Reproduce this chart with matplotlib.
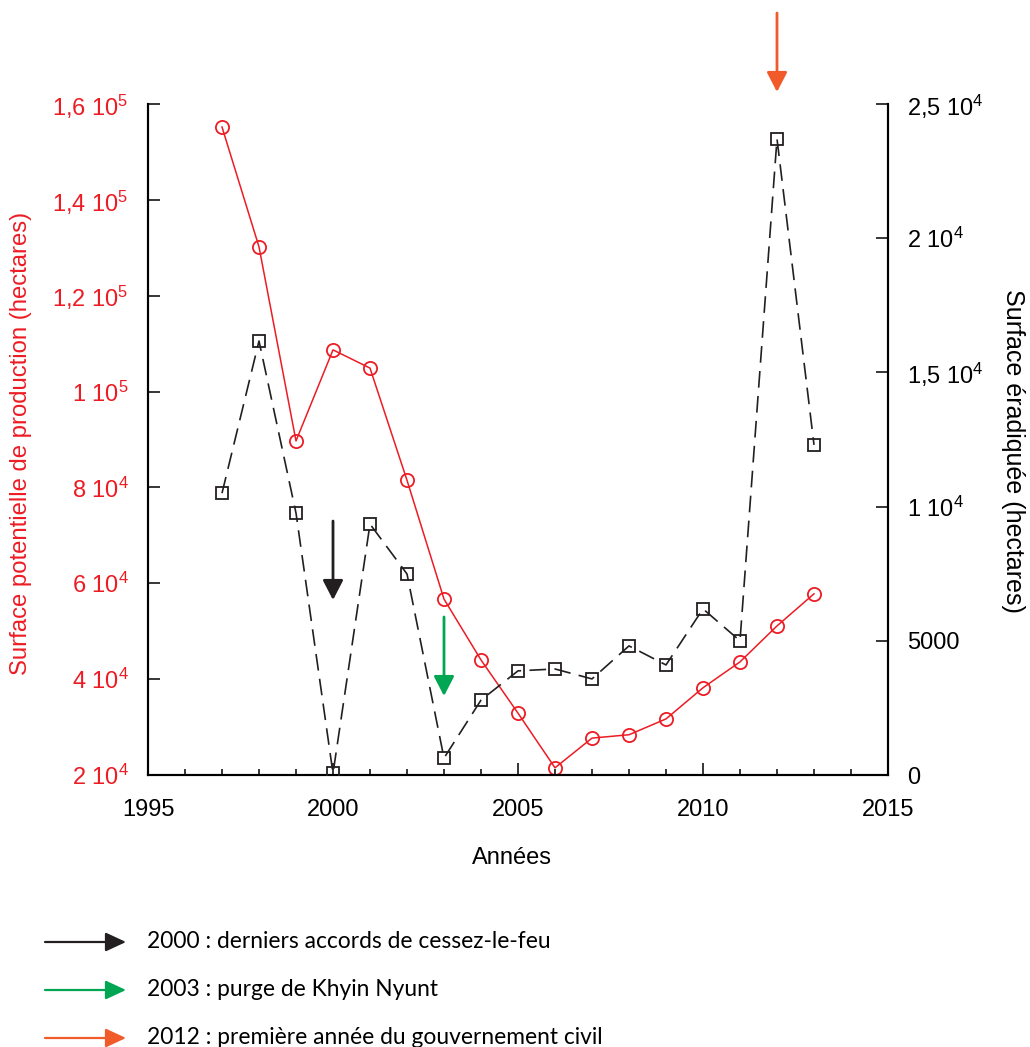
import matplotlib
matplotlib.use("Agg")
import matplotlib.pyplot as plt
import numpy as np

plt.rcParams['font.family'] = ['Liberation Sans', 'DejaVu Sans']
plt.rcParams['mathtext.fontset'] = 'custom'
plt.rcParams['mathtext.rm'] = 'Liberation Sans'
plt.rcParams['mathtext.default'] = 'regular'

# ---- data ----
years = list(range(1997, 2014))
production = [155200, 130200, 89700, 108700, 104900, 81500, 56700, 44000,
              32900, 21500, 27700, 28400, 31700, 38200, 43600, 51100, 57800]
eradicated = [10500, 16170, 9760, 60, 9350, 7490, 630, 2790,
              3880, 3950, 3580, 4810, 4100, 6190, 5000, 23700, 12300]

left_ticks = [2e4, 4e4, 6e4, 8e4, 1e5, 1.2e5, 1.4e5, 1.6e5]
left_labels = ['2 10$^4$', '4 10$^4$', '6 10$^4$', '8 10$^4$', '1 10$^5$',
               '1,2 10$^5$', '1,4 10$^5$', '1,6 10$^5$']
right_ticks = [0, 5000, 10000, 15000, 20000, 25000]
right_labels = ['0', '5000', '1 10$^4$', '1,5 10$^4$', '2 10$^4$', '2,5 10$^4$']
x_ticks = [1995, 2000, 2005, 2010, 2015]

event_years = [2000, 2003, 2012]
event_colors = ['#231f20', '#00a651', '#f15a29']
event_texts = ['2000 : derniers accords de cessez-le-feu',
               '2003 : purge de Khyin Nyunt',
               '2012 : première année du gouvernement civil']
# arrow start / tip (axes fraction)
event_start = [0.3785, 0.2355, 1.1356]
event_tip = [0.2608, 0.1177, 1.0179]

RED = '#ed1c24'
DARK = '#231f20'

W, H = 1030, 1047
fig = plt.figure(figsize=(W / 100, H / 100), dpi=100)
ax = fig.add_axes([148 / W, 1 - 775 / H, 740 / W, 671 / H])
ax2 = ax.twinx()

ax.plot(years, production, color=RED, lw=1.1, marker='o', ms=9.5,
        mfc='none', mec=RED, mew=1.3, zorder=3)
ax2.plot(years, eradicated, color=DARK, lw=1.2, dashes=(10, 5), marker='s', ms=8.5,
         mfc='none', mec=DARK, mew=1.3, zorder=3)

ax.set_xlim(1995, 2015)
ax.set_ylim(2e4, 1.6e5)
ax2.set_ylim(0, 25000)

ax.set_xticks(x_ticks)
ax.set_xticks(list(range(1995, 2016)), minor=True)
ax.set_yticks(left_ticks)
ax.set_yticklabels(left_labels)
ax2.set_yticks(right_ticks)
ax2.set_yticklabels(right_labels)

for a in (ax, ax2):
    a.spines['top'].set_visible(False)
    for s in a.spines.values():
        s.set_linewidth(1.5)
        s.set_color('black')

ax.tick_params(axis='x', which='major', direction='in', length=8.5, width=1.1,
               labelsize=17, pad=17, colors='black')
ax.tick_params(axis='x', which='minor', direction='in', length=4.3, width=1.1)
ax.tick_params(axis='y', which='major', direction='in', length=8.5, width=1.1,
               labelsize=17, pad=14, labelcolor=RED)
ax2.tick_params(axis='y', which='major', direction='in', length=8.5, width=1.1,
                labelsize=17, pad=14, labelcolor='black')
ax.yaxis.set_minor_locator(matplotlib.ticker.NullLocator())
ax2.yaxis.set_minor_locator(matplotlib.ticker.NullLocator())

fig.text(512 / W, 1 - 858 / H, 'Années', ha='center', va='center', fontsize=17)
fig.text(21 / W, 1 - 443 / H, 'Surface potentielle de production (hectares)',
         rotation=90, ha='center', va='center', fontsize=17.2, color=RED)
fig.text(1013 / W, 1 - 451 / H, 'Surface éradiquée (hectares)',
         rotation=-90, ha='center', va='center', fontsize=18, color='black')

tr = ax.get_xaxis_transform()
for yr, c, y0, y1 in zip(event_years, event_colors, event_start, event_tip):
    ax.annotate('', xy=(yr, y1), xycoords=tr, xytext=(yr, y0), textcoords=tr,
                annotation_clip=False,
                arrowprops=dict(arrowstyle='-|>,head_length=1.2,head_width=0.62',
                                mutation_scale=10, lw=2, color=c,
                                shrinkA=0, shrinkB=0))

rows_y = [942, 990, 1038]
for ry, c, t in zip(rows_y, event_colors, event_texts):
    fig.add_artist(matplotlib.patches.FancyArrowPatch(
        (45 / W, 1 - ry / H), (126 / W, 1 - ry / H), transform=fig.transFigure,
        arrowstyle='-|>,head_length=1.25,head_width=0.58', mutation_scale=10,
        lw=1.6, color=c, shrinkA=0, shrinkB=0))
    fig.text(147 / W, 1 - ry / H, t, ha='left', va='center', fontsize=16.4,
             family=['Lato', 'DejaVu Sans'], color='black')

fig.savefig('out.png', dpi=100)
